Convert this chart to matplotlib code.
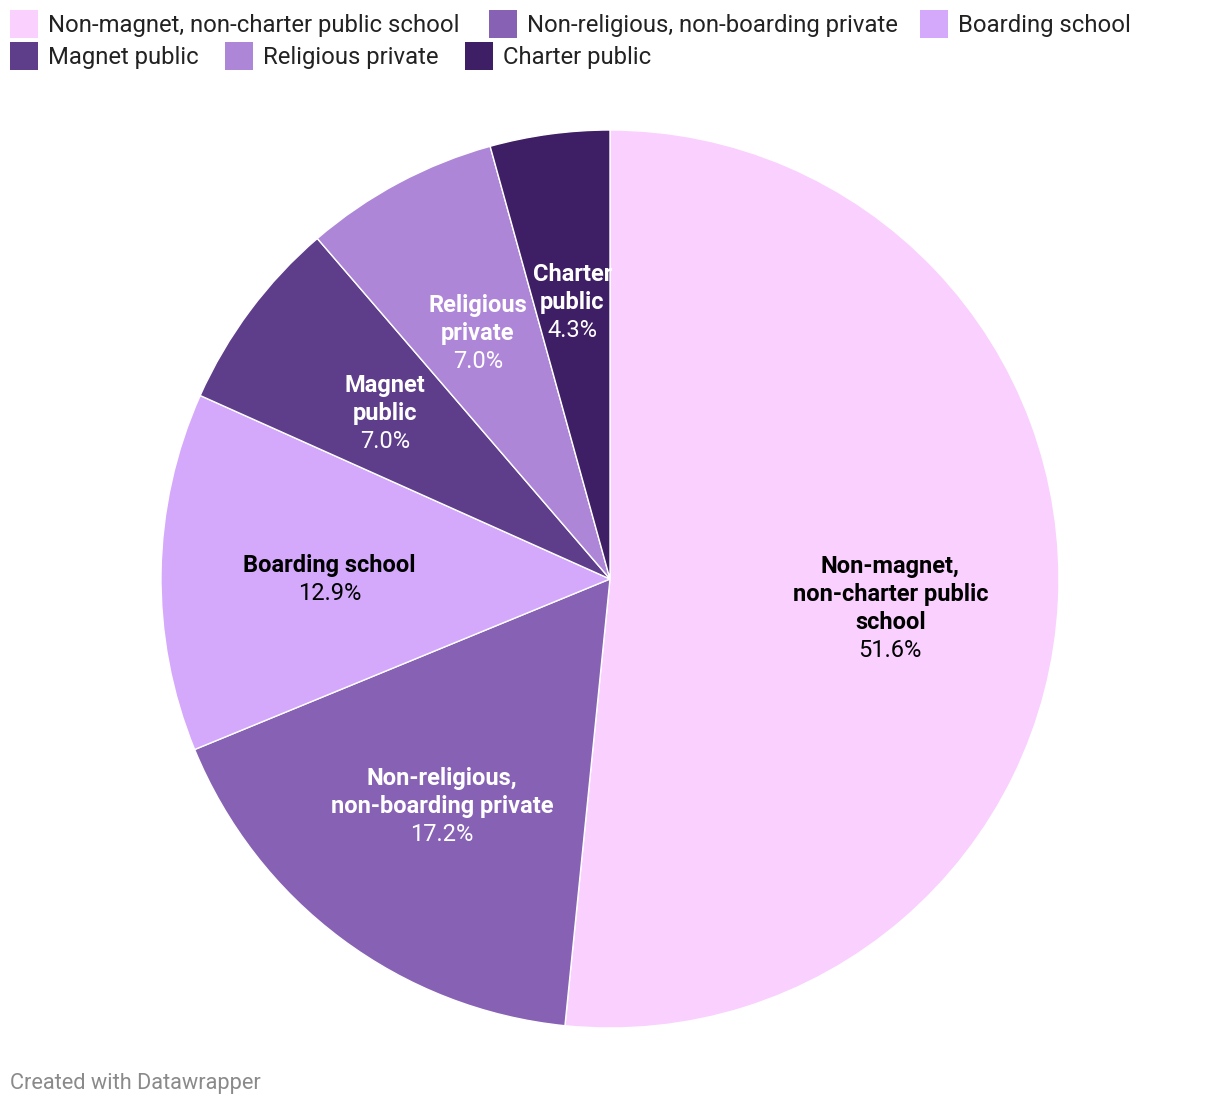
import numpy as np
import matplotlib.pyplot as plt

# =============================================================================
# Data
# =============================================================================
categories = ['Non-magnet, non-charter public school', 'Non-religious, non-boarding private',
              'Boarding school', 'Magnet public', 'Religious private', 'Charter public']
values = [51.6, 17.2, 12.9, 7.0, 7.0, 4.3]
slice_labels = [['Non-magnet,', 'non-charter public', 'school'],
                ['Non-religious,', 'non-boarding private'],
                ['Boarding school'],
                ['Magnet', 'public'],
                ['Religious', 'private'],
                ['Charter', 'public']]
colors = ['#fad0fe', '#8762b4', '#d4a9fb', '#5e3d8a', '#ae86d8', '#3e1e64']
text_colors = ['#000000', '#ffffff', '#000000', '#ffffff', '#ffffff', '#ffffff']
# small vertical nudges (px, downwards) for the label blocks
label_nudge = [14, 1.5, 4, 1, 0.5, 0.5]

plt.rcParams['font.family'] = ['Roboto', 'DejaVu Sans']

W, H = 1220, 1106
fig = plt.figure(figsize=(W / 100, H / 100), dpi=100)
ax = fig.add_axes([0, 0, 1, 1])

# Pie (pixel coords, y up)
cx, cy, R = 610, H - 579, 449
wedges, _ = ax.pie(values, colors=colors, startangle=90, counterclock=False,
                   center=(cx, cy), radius=R, frame=True,
                   wedgeprops=dict(edgecolor='white', linewidth=1))
ax.set_xlim(0, W)
ax.set_ylim(0, H)
ax.set_aspect('equal')
ax.axis('off')

# Slice labels
total = sum(values)
cum = 0
lh = 28
cap = 15.5
for v, lines, tc, nd in zip(values, slice_labels, text_colors, label_nudge):
    mid = cum + v / 2
    cum += v
    ang = np.deg2rad(90 - mid / total * 360)
    lx = cx + 0.625 * R * np.cos(ang)
    ly = cy + 0.625 * R * np.sin(ang) - nd
    allines = lines + ['{:.1f}%'.format(v)]
    n = len(allines)
    block = cap + (n - 1) * lh
    first_base = ly + block / 2 - cap
    for i, t in enumerate(allines):
        ax.text(lx, first_base - i * lh, t, ha='center', va='baseline', color=tc,
                fontsize=17, fontweight='bold' if i < n - 1 else 'normal')

# Legend
legend_rows = [[(0, 10), (1, 489), (2, 920)],
               [(3, 10), (4, 225), (5, 465)]]
row_top = [10, 42]
for row, yt in zip(legend_rows, row_top):
    for idx, x0 in row:
        ax.add_patch(plt.Rectangle((x0, H - yt - 28), 28, 28, color=colors[idx], lw=0))
        ax.text(x0 + 38, H - yt - 22, categories[idx], ha='left', va='baseline',
                fontsize=17.2, color='#222222')

ax.text(10, H - 1089, 'Created with Datawrapper', ha='left', va='baseline',
        fontsize=15.7, color='#8a8a8a')

fig.savefig('out.png', dpi=100)
